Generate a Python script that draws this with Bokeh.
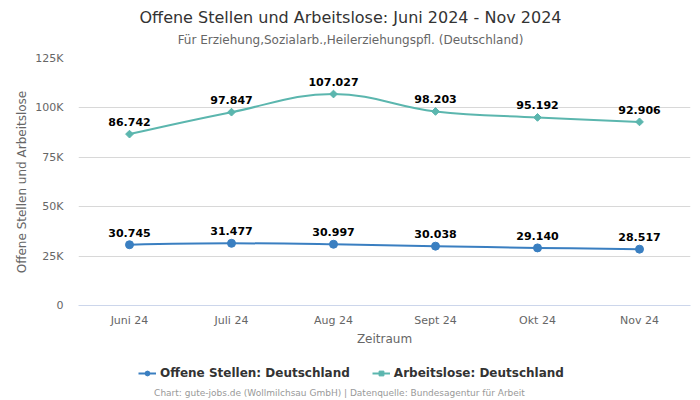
import numpy as np
from bokeh.plotting import figure
from bokeh.layouts import column
from bokeh.models import (Range1d, FixedTicker, Label, Legend, LegendItem,
                          ColumnDataSource)
from bokeh.core.properties import value
from bokeh.embed import file_html
from bokeh.resources import INLINE

# ---- data ----
months = ["Juni 24", "Juli 24", "Aug 24", "Sept 24", "Okt 24", "Nov 24"]
offene = [30745, 31477, 30997, 30038, 29140, 28517]
arbeitslose = [86742, 97847, 107027, 98203, 95192, 92906]
y_ticks = [0, 25000, 50000, 75000, 100000, 125000]
y_tick_labels = ["0", "25K", "50K", "75K", "100K", "125K"]

title_text = "Offene Stellen und Arbeitslose: Juni 2024 - Nov 2024"
subtitle_text = "Für Erziehung,Sozialarb.,Heilerziehungspfl. (Deutschland)"
footer_text = "Chart: gute-jobs.de (Wollmilchsau GmbH) | Datenquelle: Bundesagentur für Arbeit"
name_offene = "Offene Stellen: Deutschland"
name_arbeitslose = "Arbeitslose: Deutschland"

C_OFF = "#3a7fc1"
C_ARB = "#5bb6ae"
FONT = "DejaVu Sans"

# page geometry of the plotting frame (frames of the column are aligned)
FRAME_L, FRAME_R = 78, 690


def spline_segments(xs, ys):
    """Highcharts-style spline control points (smoothing 1.5)."""
    n = len(xs)
    sm, den = 1.5, 2.5
    rc = [None] * n
    lc = [None] * n
    for i in range(n):
        px, py = xs[i], ys[i]
        if 0 < i < n - 1:
            lx, ly = xs[i - 1], ys[i - 1]
            nx, ny = xs[i + 1], ys[i + 1]
            lcx = (sm * px + lx) / den
            lcy = (sm * py + ly) / den
            rcx = (sm * px + nx) / den
            rcy = (sm * py + ny) / den
            corr = 0
            if rcx != lcx:
                corr = (rcy - lcy) * (rcx - px) / (rcx - lcx) + py - rcy
            lcy += corr
            rcy += corr
            if lcy > ly and lcy > py:
                lcy = max(ly, py); rcy = 2 * py - lcy
            elif lcy < ly and lcy < py:
                lcy = min(ly, py); rcy = 2 * py - lcy
            if rcy > ny and rcy > py:
                rcy = max(ny, py); lcy = 2 * py - rcy
            elif rcy < ny and rcy < py:
                rcy = min(ny, py); lcy = 2 * py - rcy
            lc[i] = (lcx, lcy)
            rc[i] = (rcx, rcy)
    d = dict(x0=[], y0=[], x1=[], y1=[], cx0=[], cy0=[], cx1=[], cy1=[])
    for i in range(1, n):
        a = rc[i - 1] if rc[i - 1] else (xs[i - 1], ys[i - 1])
        b = lc[i] if lc[i] else (xs[i], ys[i])
        d["x0"].append(xs[i - 1]); d["y0"].append(ys[i - 1])
        d["x1"].append(xs[i]); d["y1"].append(ys[i])
        d["cx0"].append(a[0]); d["cy0"].append(a[1])
        d["cx1"].append(b[0]); d["cy1"].append(b[1])
    return ColumnDataSource(d)


def blank(height, top):
    """A plain text strip; x and y in page pixels (y downward)."""
    f = figure(width=700, height=height, output_backend="svg", toolbar_location=None,
               x_range=Range1d(FRAME_L, FRAME_R), y_range=Range1d(top + height, top),
               min_border=0, x_axis_type=None, y_axis_type=None)
    f.outline_line_color = None
    f.grid.grid_line_color = None
    f.background_fill_color = "white"
    f.border_fill_color = "white"
    return f


xs = list(range(len(months)))

# ---- header ----
head = blank(50, 0)
head.add_layout(Label(x=350, y=17, text=title_text, text_align="center",
                      text_baseline="middle", text_font=FONT, text_font_size="16px",
                      text_color="#333333"))
head.add_layout(Label(x=350, y=39, text=subtitle_text, text_align="center",
                      text_baseline="middle", text_font=FONT, text_font_size="12px",
                      text_color="#666666"))

# ---- main chart ----
p = figure(width=700, height=305, output_backend="svg", toolbar_location=None,
           x_range=Range1d(-0.5, len(months) - 0.5), y_range=Range1d(0, 125000),
           min_border_left=FRAME_L, min_border_right=700 - FRAME_R, min_border_top=8,
           min_border_bottom=50)
p.outline_line_color = None
p.background_fill_color = "white"
p.border_fill_color = "white"

p.yaxis.ticker = FixedTicker(ticks=y_ticks)
p.yaxis.major_label_overrides = dict(zip(y_ticks, y_tick_labels))
p.yaxis.major_tick_line_color = None
p.yaxis.major_tick_out = 0
p.yaxis.major_tick_in = 0
p.yaxis.minor_tick_line_color = None
p.yaxis.axis_line_color = None
p.yaxis.major_label_standoff = 15
p.yaxis.axis_label = "Offene Stellen und Arbeitslose"
p.yaxis.axis_label_standoff = 3

p.xaxis.ticker = FixedTicker(ticks=xs)
p.xaxis.major_label_overrides = dict(zip(xs, months))
p.xaxis.major_tick_line_color = None
p.xaxis.major_tick_out = 0
p.xaxis.major_tick_in = 0
p.xaxis.minor_tick_line_color = None
p.xaxis.axis_line_color = "#ccd6eb"
p.xaxis.major_label_standoff = 8
p.xaxis.axis_label = "Zeitraum"
p.xaxis.axis_label_standoff = 2

for ax in (p.xaxis, p.yaxis):
    ax.major_label_text_font = FONT
    ax.major_label_text_font_size = "11px"
    ax.major_label_text_color = "#666666"
    ax.axis_label_text_font = FONT
    ax.axis_label_text_font_size = "12px"
    ax.axis_label_text_font_style = "normal"
    ax.axis_label_text_color = "#666666"

p.ygrid.grid_line_color = "#d8d8d8"
p.xgrid.grid_line_color = None

src_off = spline_segments(xs, offene)
src_arb = spline_segments(xs, arbeitslose)

p.bezier(x0="x0", y0="y0", x1="x1", y1="y1", cx0="cx0", cy0="cy0",
         cx1="cx1", cy1="cy1", source=src_off, line_color=C_OFF, line_width=2)
p.scatter(xs, offene, marker="circle", size=8, fill_color=C_OFF, line_color=C_OFF)
p.bezier(x0="x0", y0="y0", x1="x1", y1="y1", cx0="cx0", cy0="cy0",
         cx1="cx1", cy1="cy1", source=src_arb, line_color=C_ARB, line_width=2)
p.scatter(xs, arbeitslose, marker="square", size=5.5, angle=np.pi / 4,
          fill_color=C_ARB, line_color=C_ARB)


def fmt(v):
    return f"{v:,}".replace(",", ".")


for vals in (offene, arbeitslose):
    p.text(x=xs, y=vals, text=[fmt(v) for v in vals], text_align="center",
           text_baseline="bottom", y_offset=-8, text_font=value(FONT),
           text_font_size="11px", text_font_style="bold", text_color="#000000")

# ---- legend + footer strip ----
# legend proxies: the same series, but they fall outside this strip's range
foot = blank(45, 355)
l_off = foot.line(x=xs, y=offene, line_color=C_OFF, line_width=2)
m_off = foot.scatter(x=xs, y=offene, marker="circle", size=8, fill_color=C_OFF,
                     line_color=C_OFF)
l_arb = foot.line(x=xs, y=arbeitslose, line_color=C_ARB, line_width=2)
m_arb = foot.scatter(x=xs, y=arbeitslose, marker="square", size=5.5, angle=np.pi / 4,
                     fill_color=C_ARB, line_color=C_ARB)
legend = Legend(items=[LegendItem(label=name_offene, renderers=[l_off, m_off], index=0),
                       LegendItem(label=name_arbeitslose, renderers=[l_arb, m_arb], index=0)],
                orientation="horizontal", location=(56, 16),
                border_line_alpha=0, background_fill_alpha=0,
                label_text_font=FONT, label_text_font_size="12px",
                label_text_font_style="bold", label_text_color="#333333",
                glyph_width=18, glyph_height=12, spacing=22, margin=0, padding=4,
                label_standoff=4)
foot.add_layout(legend, "center")
foot.add_layout(Label(x=339, y=392, text=footer_text, text_align="center",
                      text_baseline="middle", text_font=FONT, text_font_size="9px",
                      text_color="#999999"))

layout = column(head, p, foot, spacing=0)
open("out.html", "w").write(file_html(layout, INLINE))
